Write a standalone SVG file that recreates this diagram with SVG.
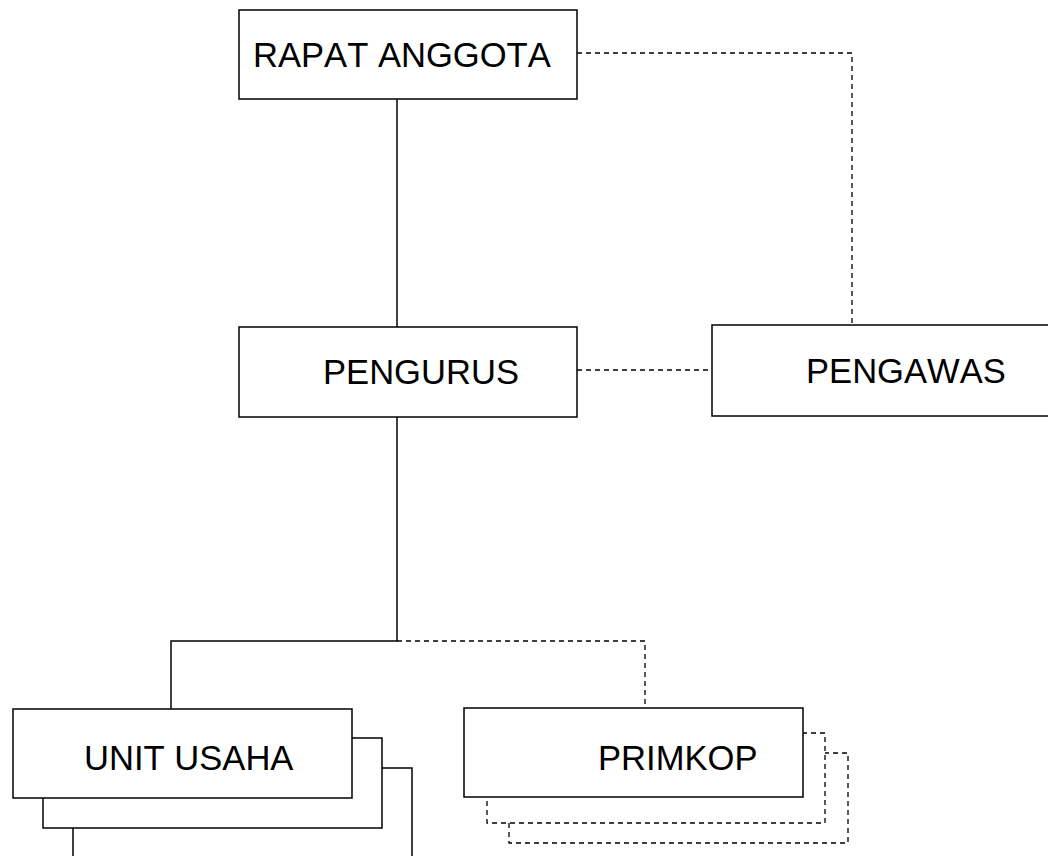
<svg xmlns="http://www.w3.org/2000/svg" width="1048" height="856" viewBox="0 0 1048 856">
<style>
.box{fill:#fff;stroke:#000;stroke-width:1.5}
.dbox{fill:#fff;stroke:#000;stroke-width:1.3;stroke-dasharray:5 4}
.lbl{font-family:"Liberation Sans",Arial,sans-serif;font-size:34.6px;font-kerning:none;fill:#000}
.solid{fill:none;stroke:#000;stroke-width:1.5}
.dash{fill:none;stroke:#000;stroke-width:1.3;stroke-dasharray:5 4}
</style>
<rect width="1048" height="856" fill="#fff"/>
<g id="connectors">
<path class="solid" d="M397 99 V327"/>
<path class="solid" d="M397 417 V641 H171 V709"/>
<path class="dash" d="M577 53 H852 V325"/>
<path class="dash" d="M577 370 H712"/>
<path class="dash" d="M397 641 H645 V708"/>
</g>
<g id="unit-usaha">
<rect class="box" x="73" y="768" width="339" height="92"/>
<rect class="box" x="43" y="738" width="339" height="90"/>
<rect class="box" x="13" y="709" width="339" height="89"/>
<text class="lbl" x="84" y="770">UNIT USAHA</text>
</g>
<g id="primkop">
<rect class="dbox" x="509" y="753" width="339" height="90"/>
<rect class="dbox" x="487" y="733" width="338" height="90"/>
<rect class="box" x="464" y="708" width="339" height="89"/>
<text class="lbl" x="598" y="770">PRIMKOP</text>
</g>
<g id="rapat-anggota">
<rect class="box" x="239" y="10" width="338" height="89"/>
<text class="lbl" x="253" y="67">RAPAT ANGGOTA</text>
</g>
<g id="pengurus">
<rect class="box" x="239" y="327" width="338" height="90"/>
<text class="lbl" x="323" y="384">PENGURUS</text>
</g>
<g id="pengawas">
<rect class="box" x="712" y="325" width="360" height="91"/>
<text class="lbl" x="806" y="383">PENGAWAS</text>
</g>
</svg>
